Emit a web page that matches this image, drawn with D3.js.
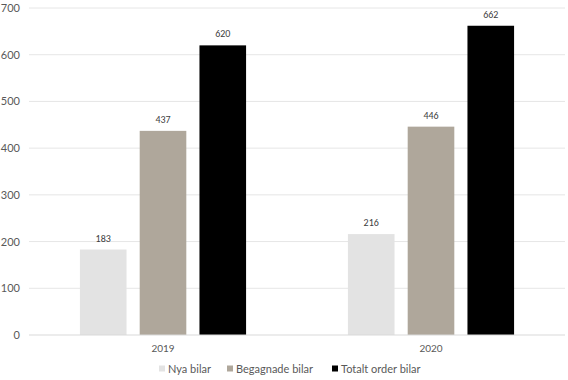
<!DOCTYPE html>
<html>
<head>
<meta charset="utf-8">
<script src="https://cdn.jsdelivr.net/npm/d3@7"></script>
<style>
  body { margin: 0; background: #fff; }
  text { font-family: "Century Gothic", "Lato", "Noto Sans", sans-serif; }
  .val { font-family: "Carlito", "Liberation Sans", "Open Sans", sans-serif; }
</style>
</head>
<body>
<div id="chart"></div>
<script>
var years = ["2019", "2020"];
var seriesNames = ["Nya bilar", "Begagnade bilar", "Totalt order bilar"];
var nyaBilar = [183, 216];
var begagnadeBilar = [437, 446];
var totaltOrder = [620, 662];
var yTicks = [0, 100, 200, 300, 400, 500, 600, 700];

var colors = ["#e3e3e3", "#afa79b", "#000000"];

var svgWidth = 568;
var svgHeight = 380;
var margin = { top: 8, right: 3, bottom: 45, left: 29 };
var width = svgWidth - margin.left - margin.right;
var height = svgHeight - margin.top - margin.bottom;

var svg = d3.select("#chart")
  .append("svg")
  .attr("width", svgWidth)
  .attr("height", svgHeight);

var chartGroup = svg.append("g")
  .attr("transform", `translate(${margin.left}, ${margin.top})`);

// build rows: one per year
var rows = years.map(function(y, i) {
  return { year: y, values: [nyaBilar[i], begagnadeBilar[i], totaltOrder[i]] };
});

var x0 = d3.scaleBand().domain(years).range([0, width]).paddingInner(0).paddingOuter(0);
var x1 = d3.scaleBand().domain(d3.range(seriesNames.length))
  .range([0, x0.bandwidth() * 0.62]).paddingInner(0.22);
var groupOffset = (x0.bandwidth() - x0.bandwidth() * 0.62) / 2;

var yScale = d3.scaleLinear().domain([0, 700]).range([height, 0]);

// gridlines
chartGroup.append("g")
  .selectAll("line")
  .data(yTicks.filter(d => d > 0))
  .enter()
  .append("line")
  .attr("x1", 0)
  .attr("x2", width)
  .attr("y1", d => yScale(d))
  .attr("y2", d => yScale(d))
  .attr("stroke", "#e6e6e6")
  .attr("stroke-width", 1);

// y axis labels
var yAxis = d3.axisLeft(yScale).tickValues(yTicks).tickSize(0).tickPadding(9);
var yG = chartGroup.append("g").call(yAxis);
yG.select(".domain").remove();
yG.selectAll("text").attr("fill", "#595959").style("font-size", "11px");

// bars
var groups = chartGroup.selectAll(".grp")
  .data(rows)
  .enter()
  .append("g")
  .attr("class", "grp")
  .attr("transform", d => `translate(${x0(d.year) + groupOffset},0)`);

groups.selectAll("rect")
  .data(d => d.values)
  .enter()
  .append("rect")
  .attr("x", (d, i) => x1(i))
  .attr("width", x1.bandwidth())
  .attr("y", d => yScale(d))
  .attr("height", d => height - yScale(d))
  .attr("fill", (d, i) => colors[i]);

groups.selectAll("text")
  .data(d => d.values)
  .enter()
  .append("text")
  .attr("class", "val")
  .attr("x", (d, i) => x1(i) + x1.bandwidth() / 2)
  .attr("y", d => yScale(d) - 8)
  .attr("text-anchor", "middle")
  .attr("fill", "#404040")
  .style("font-size", "10px")
  .text(d => d);

// baseline
chartGroup.append("line")
  .attr("x1", 0).attr("x2", width)
  .attr("y1", height).attr("y2", height)
  .attr("stroke", "#d9d9d9");

// x axis
var xAxis = d3.axisBottom(x0).tickSize(0).tickPadding(10);
var xG = chartGroup.append("g")
  .attr("transform", `translate(0,${height})`)
  .call(xAxis);
xG.select(".domain").remove();
xG.selectAll("text").attr("fill", "#595959").style("font-size", "10px");

// legend
var legendX = [159, 227, 332];
var legend = svg.append("g").attr("transform", "translate(0,369)");
var items = legend.selectAll("g")
  .data(seriesNames)
  .enter()
  .append("g")
  .attr("transform", (d, i) => `translate(${legendX[i]},0)`);
items.append("rect")
  .attr("x", 0).attr("y", -3.5)
  .attr("width", 6).attr("height", 6)
  .attr("fill", (d, i) => colors[i]);
items.append("text")
  .attr("x", 9)
  .attr("dy", "0.35em")
  .attr("fill", "#595959")
  .style("font-size", "11px")
  .text(d => d);
</script>
</body>
</html>
